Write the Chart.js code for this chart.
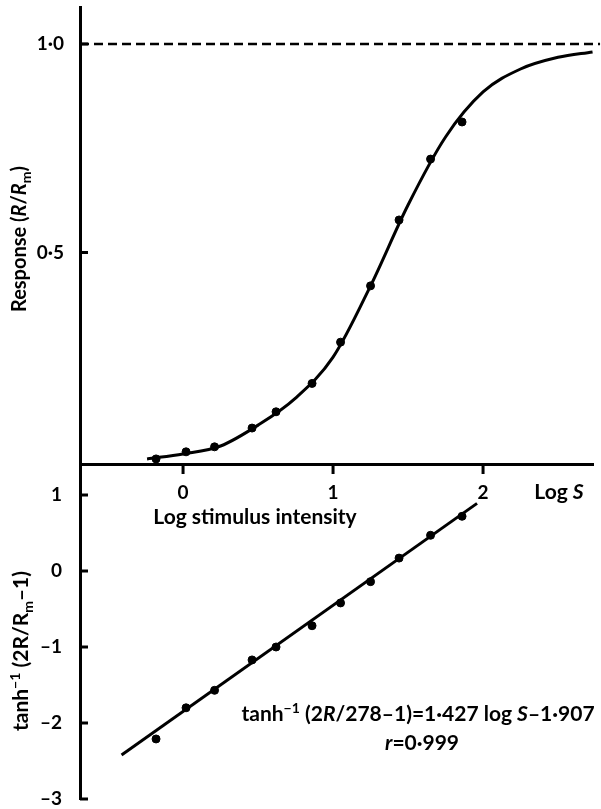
<!DOCTYPE html>
<html>
<head>
<meta charset="utf-8">
<script src="https://cdn.jsdelivr.net/npm/chart.js@4.4.0/dist/chart.umd.min.js"></script>
<style>
  html, body { margin: 0; padding: 0; background: #fff; }
  #wrap { position: relative; width: 601px; height: 809px; }
  canvas { position: absolute; left: 0; top: 0; }
</style>
</head>
<body>
<div id="wrap">
  <canvas id="responseChart" width="601" height="809"></canvas>
  <canvas id="tanhChart" width="601" height="809"></canvas>
</div>
<script>
// Измеренные точки
const logS = [-0.18, 0.02, 0.21, 0.46, 0.62, 0.86, 1.05, 1.25, 1.44, 1.65, 1.86];
const response = [0.005, 0.022, 0.034, 0.079, 0.118, 0.186, 0.285, 0.42, 0.578, 0.724, 0.813];
const tanhValues = [-2.21, -1.80, -1.57, -1.17, -1.00, -0.72, -0.42, -0.14, 0.17, 0.47, 0.72];

// Кривая
const curveLogS = [-0.24, 0, 0.25, 0.5, 0.75, 1.0, 1.25, 1.5, 1.75, 2.0, 2.25, 2.5, 2.73];
const curveResponse = [0.005, 0.017, 0.036, 0.086, 0.151, 0.249, 0.42, 0.614, 0.777, 0.885, 0.94, 0.968, 0.981];

// Прямая регрессии
const fitLogS = [-0.41, 1.96];
const fitValues = [-2.42, 0.89];

// Уровень R = Rm
const maxLogS = [-0.687, 2.78];
const maxResponse = [1, 1];

// Деления осей
const xTicks = [0, 1, 2];
const responseTicks = [0.5, 1.0];
const tanhTicks = [1, 0, -1, -2, -3];

const FONT = 'Lato';
const toXY = (xs, ys) => xs.map((x, i) => ({ x: x, y: ys[i] }));
const fmtInt = v => (v < 0 ? '\u2013' : '') + Math.abs(v);
const fmtDec = v => v.toFixed(1).replace('.', '\u00b7');

// Без автоматических отступов под подписи
function noPad(s) {
    s.paddingTop = 0;
    s.paddingBottom = 0;
    s.paddingLeft = 0;
    s.paddingRight = 0;
}

// Текст с курсивом, индексами и степенями
function drawRich(ctx, segs, x, y, size, rotate) {
    ctx.save();
    ctx.translate(x, y);
    if (rotate) ctx.rotate(-Math.PI / 2);
    ctx.fillStyle = '#000';
    ctx.textBaseline = 'alphabetic';
    ctx.textAlign = 'left';
    const fontOf = s => (s[1] === 'i' ? 'italic ' : '') + 'bold ' +
        (s[1] === 'sub' || s[1] === 'sup' ? Math.round(size * 0.68) : size) + 'px ' + FONT;
    let w = 0;
    segs.forEach(s => { ctx.font = fontOf(s); w += ctx.measureText(s[0]).width; });
    let cx = -w / 2;
    segs.forEach(s => {
        ctx.font = fontOf(s);
        const dy = s[1] === 'sub' ? size * 0.25 : s[1] === 'sup' ? -size * 0.38 : 0;
        ctx.fillText(s[0], cx, size * 0.36 + dy);
        cx += ctx.measureText(s[0]).width;
    });
    ctx.restore();
}

const extras = {
    id: 'extras',
    afterDraw(chart, args, opts) {
        const ctx = chart.ctx;
        const area = chart.chartArea;
        ctx.save();
        ctx.strokeStyle = '#000';
        ctx.lineWidth = 3;
        ctx.lineCap = 'butt';
        (opts.yTicks || []).forEach(v => {
            const py = chart.scales.y.getPixelForValue(v);
            ctx.beginPath();
            ctx.moveTo(area.left, py);
            ctx.lineTo(area.left + 8, py);
            ctx.stroke();
        });
        (opts.xTicks || []).forEach(v => {
            const px = chart.scales.x.getPixelForValue(v);
            ctx.beginPath();
            ctx.moveTo(px, area.bottom);
            ctx.lineTo(px, area.bottom + 10);
            ctx.stroke();
        });
        ctx.restore();
        (opts.texts || []).forEach(t => drawRich(ctx, t.segs, t.x, t.y, t.size, t.rotate));
    }
};

const axisFont = { family: FONT, size: 19, weight: 'bold' };

// Верхний график: ответ R/Rm
new Chart(document.getElementById('responseChart'), {
    type: 'scatter',
    data: {
        datasets: [
            {
                data: toXY(maxLogS, maxResponse),
                showLine: true,
                borderColor: '#000',
                borderWidth: 2.5,
                borderDash: [9, 5],
                pointRadius: 0,
                clip: false
            },
            {
                data: toXY(curveLogS, curveResponse),
                showLine: true,
                borderColor: '#000',
                borderWidth: 3,
                cubicInterpolationMode: 'monotone',
                pointRadius: 0
            },
            {
                data: toXY(logS, response),
                pointRadius: 4,
                pointBackgroundColor: '#000',
                pointBorderColor: '#000'
            }
        ]
    },
    options: {
        responsive: false,
        animation: false,
        devicePixelRatio: 1,
        layout: { padding: { left: 0, right: 8, top: 7, bottom: 0 } },
        plugins: {
            legend: { display: false },
            tooltip: { enabled: false },
            extras: {
                yTicks: responseTicks,
                xTicks: xTicks,
                texts: [
                    { segs: [['Response (', ''], ['R', 'i'], ['/', ''], ['R', 'i'], ['m', 'sub'], [')', '']], x: 19, y: 239, size: 20, rotate: true },
                    { segs: [['Log stimulus intensity', '']], x: 255, y: 516, size: 21 },
                    { segs: [['Log ', ''], ['S', 'i']], x: 559, y: 491, size: 21 }
                ]
            }
        },
        scales: {
            x: {
                type: 'linear',
                min: -0.687,
                max: 2.733,
                afterFit: s => { s.height = 345; noPad(s); },
                afterBuildTicks: s => { s.ticks = xTicks.map(v => ({ value: v })); },
                grid: { display: false },
                border: { display: true, color: '#000', width: 3 },
                ticks: { color: '#000', font: axisFont, padding: 9, maxRotation: 0, autoSkip: false, callback: v => fmtInt(v) }
            },
            y: {
                type: 'linear',
                min: -0.0072,
                max: 1.0887,
                afterFit: s => { s.width = 80; noPad(s); },
                afterBuildTicks: s => { s.ticks = responseTicks.map(v => ({ value: v })); },
                grid: { display: false },
                border: { display: true, color: '#000', width: 3 },
                ticks: { color: '#000', font: axisFont, padding: 8, callback: v => fmtDec(v) }
            }
        }
    },
    plugins: [extras]
});

// Нижний график: tanh^-1 (2R/Rm - 1)
new Chart(document.getElementById('tanhChart'), {
    type: 'scatter',
    data: {
        datasets: [
            {
                data: toXY(fitLogS, fitValues),
                showLine: true,
                borderColor: '#000',
                borderWidth: 3,
                pointRadius: 0
            },
            {
                data: toXY(logS, tanhValues),
                pointRadius: 4,
                pointBackgroundColor: '#000',
                pointBorderColor: '#000'
            }
        ]
    },
    options: {
        responsive: false,
        animation: false,
        devicePixelRatio: 1,
        layout: { padding: { left: 0, right: 8, top: 464, bottom: 10 } },
        plugins: {
            legend: { display: false },
            tooltip: { enabled: false },
            extras: {
                yTicks: tanhTicks,
                texts: [
                    { segs: [['tanh', ''], ['\u22121', 'sup'], [' (2R/R', ''], ['m', 'sub'], ['\u20131)', '']], x: 20, y: 651, size: 21, rotate: true },
                    { segs: [['tanh', ''], ['\u22121', 'sup'], [' (2', ''], ['R', 'i'], ['/278\u20131)=1\u00b7427 log ', ''], ['S', 'i'], ['\u20131\u00b7907', '']], x: 418, y: 713, size: 21 },
                    { segs: [['r', 'i'], ['=0\u00b7999', '']], x: 422, y: 742, size: 21 }
                ]
            }
        },
        scales: {
            x: {
                type: 'linear',
                display: false,
                min: -0.687,
                max: 2.733
            },
            y: {
                type: 'linear',
                min: -3,
                max: 1.408,
                afterFit: s => { s.width = 80; noPad(s); },
                afterBuildTicks: s => { s.ticks = tanhTicks.map(v => ({ value: v })); },
                grid: { display: false },
                border: { display: true, color: '#000', width: 3 },
                ticks: { color: '#000', font: axisFont, padding: 10, callback: v => fmtInt(v) }
            }
        }
    },
    plugins: [extras]
});
</script>
</body>
</html>
